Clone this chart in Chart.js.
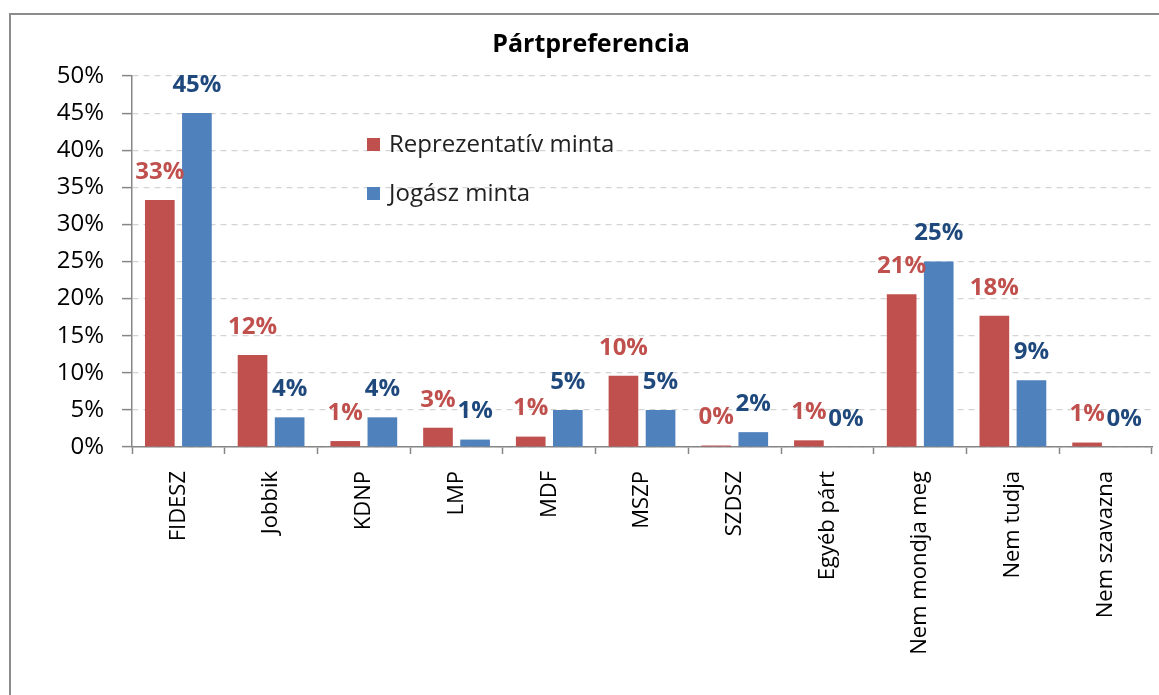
<!DOCTYPE html>
<html>

<head>
    <title>Pártpreferencia</title>
    <script src="https://cdn.jsdelivr.net/npm/chart.js"></script>
    <style>
        body { margin: 0; background: #fff; overflow: hidden; }
        #frame { position: absolute; left: 9px; top: 13px; width: 1300px; height: 900px; border: 2px solid #8c8c8c; }
        #wrap { position: absolute; left: 0; top: 0; }
    </style>
</head>

<body>
    <div id="frame"></div>
    <div id="wrap">
        <canvas id="myChart" width="1159" height="695"></canvas>
    </div>
    <script>
        const categories = ['FIDESZ', 'Jobbik', 'KDNP', 'LMP', 'MDF', 'MSZP', 'SZDSZ', 'Egyéb párt', 'Nem mondja meg', 'Nem tudja', 'Nem szavazna'];
        const reprezentativ = [33.3, 12.4, 0.8, 2.6, 1.4, 9.6, 0.2, 0.9, 20.6, 17.7, 0.6];
        const jogasz = [45, 4, 4, 1, 5, 5, 2, 0, 25, 9, 0];
        const seriesNames = ['Reprezentatív minta', 'Jogász minta'];
        const barColors = ['#C0504D', '#4F81BD'];
        const labelColors = ['#C0504D', '#1F497D'];
        const yTicks = [0, 5, 10, 15, 20, 25, 30, 35, 40, 45, 50];

        const FONT = "'Open Sans', 'Noto Sans', sans-serif";

        // value labels above the bars
        const valueLabels = {
            id: 'valueLabels',
            afterDatasetsDraw(chart) {
                const ctx = chart.ctx;
                ctx.save();
                ctx.font = 'bold 24px ' + FONT;
                ctx.textAlign = 'center';
                ctx.textBaseline = 'middle';
                chart.data.datasets.forEach((ds, i) => {
                    const meta = chart.getDatasetMeta(i);
                    meta.data.forEach((bar, j) => {
                        ctx.fillStyle = labelColors[i];
                        ctx.fillText(Math.round(ds.data[j]) + '%', bar.x, bar.y - 28);
                    });
                });
                ctx.restore();
            }
        };

        // legend inside the plot area
        const innerLegend = {
            id: 'innerLegend',
            afterDraw(chart) {
                const ctx = chart.ctx;
                const a = chart.chartArea;
                ctx.save();
                ctx.font = '24px ' + FONT;
                ctx.textBaseline = 'middle';
                ctx.textAlign = 'left';
                chart.data.datasets.forEach((ds, i) => {
                    const y = a.top + 69 + i * 49;
                    ctx.fillStyle = ds.backgroundColor;
                    ctx.fillRect(a.left + 235, y - 7, 13, 13);
                    ctx.fillStyle = '#222';
                    ctx.fillText(ds.label, a.left + 257, y);
                });
                ctx.restore();
            }
        };

        const ctx = document.getElementById('myChart').getContext('2d');
        new Chart(ctx, {
            type: 'bar',
            data: {
                labels: categories,
                datasets: [{
                    label: seriesNames[0],
                    data: reprezentativ,
                    backgroundColor: barColors[0]
                }, {
                    label: seriesNames[1],
                    data: jogasz,
                    backgroundColor: barColors[1]
                }]
            },
            options: {
                responsive: false,
                animation: false,
                categoryPercentage: 0.8,
                barPercentage: 0.8,
                layout: { padding: { left: 30, right: 7, top: 0, bottom: 0 } },
                plugins: {
                    legend: { display: false },
                    tooltip: { enabled: false },
                    title: {
                        display: true,
                        text: 'Pártpreferencia',
                        color: '#000',
                        font: { family: FONT, size: 25, weight: 'bold', lineHeight: 1.2 },
                        padding: { top: 30, bottom: 16 }
                    }
                },
                scales: {
                    x: {
                        grid: {
                            display: true,
                            drawOnChartArea: false,
                            drawTicks: true,
                            tickLength: 7,
                            tickColor: '#868686',
                            tickWidth: 1.5,
                            offset: true
                        },
                        border: { display: true, color: '#868686', width: 1.5 },
                        ticks: {
                            color: '#000',
                            font: { family: FONT, size: 22 },
                            minRotation: 90,
                            maxRotation: 90,
                            autoSkip: false,
                            padding: 17
                        },
                        afterFit(scale) { scale.height = 248; }
                    },
                    y: {
                        min: 0,
                        max: 50,
                        afterBuildTicks(scale) {
                            scale.ticks = yTicks.map(v => ({ value: v }));
                        },
                        grid: {
                            color: '#d4d4d4',
                            lineWidth: 1.2,
                            drawTicks: true,
                            tickLength: 10,
                            tickColor: '#868686',
                            tickWidth: 1.5
                        },
                        border: { display: true, color: '#868686', width: 1.5, dash: [6, 5] },
                        ticks: {
                            color: '#000',
                            font: { family: FONT, size: 24 },
                            padding: 18,
                            callback: v => v + '%'
                        },
                        afterFit(scale) { scale.width = 102; }
                    }
                }
            },
            plugins: [valueLabels, innerLegend]
        });
    </script>
</body>

</html>
